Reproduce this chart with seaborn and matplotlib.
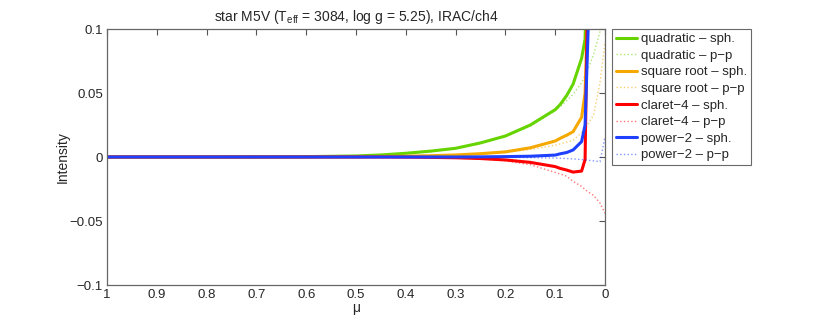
import matplotlib
matplotlib.use("Agg")
import matplotlib.pyplot as plt
import seaborn as sns
import pandas as pd

# mu grids
mu_sph = [1.0, 0.9, 0.8, 0.7, 0.6, 0.5, 0.45, 0.4, 0.35, 0.3, 0.25, 0.2, 0.15,
          0.1, 0.09, 0.077, 0.064, 0.047, 0.040, 0.033]
mu_pp = [1.0, 0.9, 0.8, 0.7, 0.6, 0.5, 0.45, 0.4, 0.35, 0.3, 0.25, 0.2, 0.15,
         0.1, 0.077, 0.064, 0.047, 0.035, 0.023, 0.01, 0.0]

# spherical models
quad_sph = [0, 0, 0, 0.0001, 0.0003, 0.0008, 0.0016, 0.0029, 0.0046, 0.0068, 0.011,
            0.0164, 0.025, 0.037, 0.041, 0.048, 0.057, 0.077, 0.092, 0.2]
sqrt_sph = [0, 0, 0, 0, 0.0001, 0.0002, 0.0004, 0.0006, 0.001, 0.0016, 0.0026,
            0.004, 0.0072, 0.0125, 0.0146, 0.017, 0.0198, 0.031, 0.05, 0.14]
claret_sph = [0, 0, 0, 0, 0, 0, 0, -0.0001, -0.0003, -0.0006, -0.0012,
              -0.0023, -0.0042, -0.0075, -0.0089, -0.0102, -0.0118, -0.011, -0.002, 0.18]
power_sph = [0, 0, 0, 0, 0, 0, 0, 0, 0, 0, 0.0001,
             0.0003, 0.0006, 0.0015, 0.0025, 0.0035, 0.0055, 0.012, 0.025, 0.11]

# plane-parallel models
quad_pp = [0, 0, 0, 0.0001, 0.0003, 0.0008, 0.0015, 0.0028, 0.0044, 0.0066, 0.0105,
           0.016, 0.024, 0.036, 0.044, 0.049, 0.058, 0.068, 0.080, 0.098, 0.12]
sqrt_pp = [0, 0, 0, 0, 0.0001, 0.0002, 0.0004, 0.0006, 0.0009, 0.0015, 0.0024,
           0.0036, 0.0058, 0.0092, 0.0115, 0.013, 0.019, 0.025, 0.033, 0.058, 0.09]
claret_pp = [0, 0, 0, 0, 0, 0, 0, -0.0001, -0.0003, -0.0006, -0.0013,
             -0.003, -0.006, -0.012, -0.015, -0.019, -0.023, -0.027, -0.030, -0.036, -0.044]
power_pp = [0, 0, 0, 0, 0, 0, 0, 0, 0, 0, -0.0001,
            -0.0003, -0.0005, -0.0008, -0.0012, -0.0015, -0.002, -0.0025, -0.003, -0.0037, 0.0156]

labels = ["quadratic", "square root", "claret\u22124", "power\u22122"]
colors = ["#66d400", "#f5a800", "#ff0000", "#2040ff"]
sph_series = [quad_sph, sqrt_sph, claret_sph, power_sph]
pp_series = [quad_pp, sqrt_pp, claret_pp, power_pp]

sns.set_style("white")
plt.rcParams['font.family'] = ['Liberation Sans', 'DejaVu Sans']
plt.rcParams['mathtext.fontset'] = 'custom'
plt.rcParams['mathtext.rm'] = 'Liberation Sans'

fig = plt.figure(figsize=(8.3, 3.19), dpi=100)
ax = fig.add_axes([107 / 830, 34 / 319, 498 / 830, 256 / 319])

for name, col, ys, yp in zip(labels, colors, sph_series, pp_series):
    d1 = pd.DataFrame({"mu": mu_sph, "I": ys})
    d2 = pd.DataFrame({"mu": mu_pp, "I": yp})
    sns.lineplot(data=d1, x="mu", y="I", ax=ax, color=col, lw=2.2, sort=False,
                 label=name + " \u2013 sph.")
    sns.lineplot(data=d2, x="mu", y="I", ax=ax, color=col, lw=1.0, sort=False,
                 linestyle=":", alpha=0.55, label=name + " \u2013 p\u2212p")

ax.set_xlim(1, 0)
ax.set_ylim(-0.1, 0.1)
ax.set_xticks([1, 0.9, 0.8, 0.7, 0.6, 0.5, 0.4, 0.3, 0.2, 0.1, 0])
ax.set_xticklabels(["1", "0.9", "0.8", "0.7", "0.6", "0.5", "0.4", "0.3", "0.2", "0.1", "0"])
ax.set_yticks([-0.1, -0.05, 0, 0.05, 0.1])
ax.set_yticklabels(["\u22120.1", "\u22120.05", "0", "0.05", "0.1"])
ax.tick_params(direction="in", length=4, width=0.8, color="#555555",
               top=True, right=True, labelsize=9.5, pad=3)
for s in ax.spines.values():
    s.set_color("#666666")
    s.set_linewidth(0.9)

ax.set_xlabel("\u03bc", fontsize=10, labelpad=0)
ax.set_ylabel("Intensity", fontsize=10, labelpad=0)
ax.set_title(r"star M5V (T$_{\rm eff}$ = 3084, log g = 5.25), IRAC/ch4", fontsize=10, pad=6)

leg = ax.legend(loc="upper left", bbox_to_anchor=(612 / 830, 1 - 29 / 319),
                bbox_transform=fig.transFigure, fontsize=9.5, frameon=True,
                fancybox=False, handlelength=1.6, handletextpad=0.3,
                labelspacing=0.33, borderpad=0.3, borderaxespad=0)
leg.get_frame().set_edgecolor("#444444")
leg.get_frame().set_linewidth(0.8)

fig.savefig("out.png", dpi=100)
